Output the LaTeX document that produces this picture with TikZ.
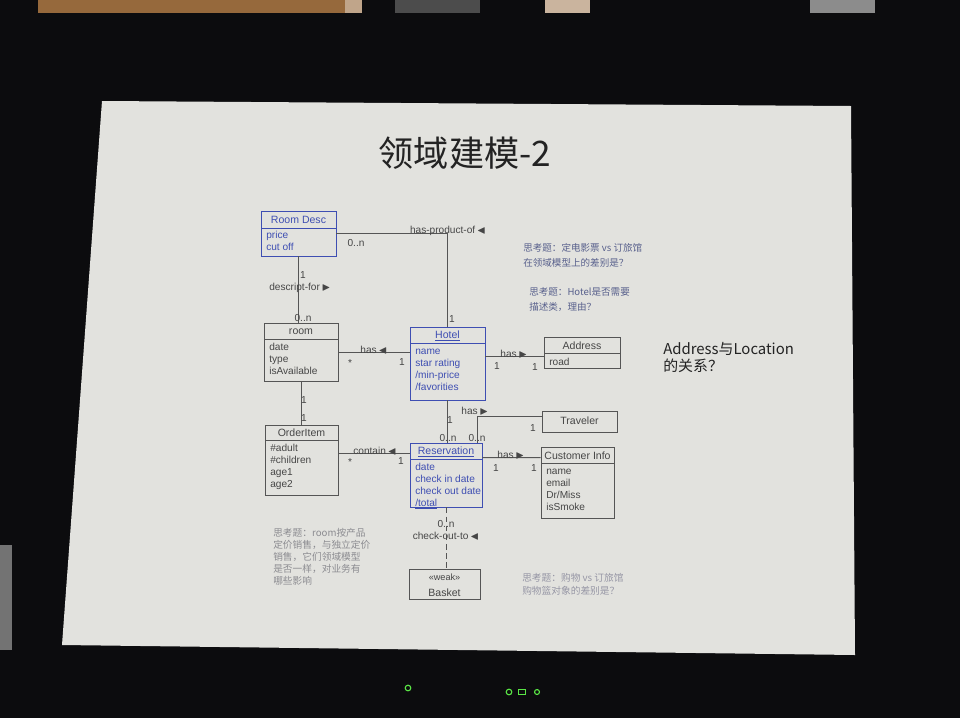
\documentclass[tikz,border=0pt]{standalone}
\usepackage{amssymb}
\usepackage{fontspec}
\setmainfont{Liberation Sans}
\newfontfamily\cjk{Noto Sans CJK SC}
\usetikzlibrary{positioning,calc,fit}
\definecolor{cadre}{RGB}{12,12,14}
\definecolor{ecran}{RGB}{226,226,222}
\definecolor{bleuclasse}{RGB}{62,78,178}
\definecolor{encre}{RGB}{70,70,70}
\definecolor{trait}{RGB}{85,85,85}
\definecolor{titre}{RGB}{35,35,35}
\definecolor{noteA}{RGB}{88,96,140}
\definecolor{noteB}{RGB}{140,140,145}
\definecolor{noteC}{RGB}{150,150,165}
\definecolor{bois}{RGB}{150,105,60}
\definecolor{vert}{RGB}{90,230,70}
\newcommand{\flg}{$\blacktriangleleft$}
\newcommand{\fld}{$\blacktriangleright$}

\begin{document}
\begin{tikzpicture}[x=0.025cm,y=-0.025cm,font=\fontsize{7.2}{8.5}\selectfont,
	classe/.style={draw=trait,line width=0.6pt,inner sep=0pt},
	entete/.style={inner sep=0pt,text=encre,font=\fontsize{7.5}{8.5}\selectfont},
	attr/.style={anchor=north west,align=left,inner sep=0pt,text=encre},
	lien/.style={draw=trait,line width=0.6pt},
	mult/.style={inner sep=0pt,text=encre},
	note/.style={anchor=north west,align=left,inner sep=0pt,font=\cjk\fontsize{6.8}{10.6}\selectfont},
	led/.style={circle,draw=vert,line width=0.8pt,inner sep=0pt,minimum size=4pt}]
					\fill[cadre] (0,0) rectangle (960,718);
					\useasboundingbox (0,0) rectangle (960,718);
					\fill[bois] (38,0) rectangle (345,13);
					\fill[bois!60!white] (345,0) rectangle (362,13);
					\fill[black!70] (395,0) rectangle (480,13);
					\fill[bois!50!white] (545,0) rectangle (590,13);
					\fill[black!45] (810,0) rectangle (875,13);
					\fill[black!55] (0,545) rectangle (12,650);
					\fill[ecran] (102,101) -- (851,106) -- (855,655) -- (62,645) -- cycle;
					
					\node[font=\cjk\fontsize{25}{25}\selectfont,text=titre] (titre) at (465,153) {领域建模-2};
					
					\node[classe,draw=bleuclasse,fit={(261,211) (336,256)}] (rd) {};
					\draw[bleuclasse,line width=0.6pt] (261,228) -- (336,228);
					\node[entete,text=bleuclasse] (rdT) at (298.5,220) {Room Desc};
					\node[attr,text=bleuclasse] (rdA) at (266,230) {\strut price\\cut off};
					
					\node[classe,fit={(264,323) (338,381)}] (room) {};
					\draw[lien] (264,339) -- (338,339);
					\node[entete] (roomT) at (301,331.5) {room};
					\node[attr] (roomA) at (269,341.6) {\strut date\\type\\isAvailable};
					
					\node[classe,draw=bleuclasse,fit={(410,327) (485,400)}] (hotel) {};
					\draw[bleuclasse,line width=0.6pt] (410,343) -- (485,343);
					\node[entete,text=bleuclasse] (hotelT) at (447.5,335.5) {\underline{Hotel}};
					\node[attr,text=bleuclasse] (hotelA) at (415,345.6) {\strut name\\star rating\\/min-price\\/favorities};
					
					\node[classe,fit={(544,337) (620,368)}] (adr) {};
					\draw[lien] (544,353) -- (620,353);
					\node[entete] (adrT) at (582,345.5) {Address};
					\node[attr] (adrA) at (549,356.6) {\strut road};
					
					\node[classe,fit={(542,411) (617,432)}] (trav) {};
					\node[entete] (travT) at (579.5,421) {Traveler};
					
					\node[classe,fit={(265,425) (338,495)}] (oi) {};
					\draw[lien] (265,440) -- (338,440);
					\node[entete] (oiT) at (301.5,433) {OrderItem};
					\node[attr] (oiA) at (270,442.6) {\strut\#adult\\\#children\\age1\\age2};
					
					\node[classe,draw=bleuclasse,fit={(410,443) (482,507)}] (resv) {};
					\draw[bleuclasse,line width=0.6pt] (410,459) -- (482,459);
					\node[entete,text=bleuclasse] (resvT) at (446,452) {\underline{Reservation}};
					\node[attr,text=bleuclasse] (resvA) at (415,461.6) {\strut date\\check in date\\check out date\\\underline{/total}};
					
					\node[classe,fit={(541,447) (614,518)}] (ci) {};
					\draw[lien] (541,463) -- (614,463);
					\node[entete] (ciT) at (577.5,455.5) {Customer Info};
					\node[attr] (ciA) at (546,465.6) {\strut name\\email\\Dr/Miss\\isSmoke};
					
					\node[classe,fit={(409,569) (480,599)}] (bk) {};
					\node[entete,align=center,font=\fontsize{7.5}{11}\selectfont] (bkT) at (444.5,585) {{\fontsize{6.5}{11}\selectfont«weak»}\\Basket};
					
					\draw[lien] (rd.east) -| (hotel.north);
					\draw[lien] (rd.south) -- (rd.south |- room.north);
					\draw[lien] (room.east) -- (room.east -| hotel.west);
					\draw[lien] (room.south) -- (room.south |- oi.north);
					\draw[lien] ($(hotel.north east)+(0,30)$) -- ($(adr.north west)+(0,20)$);
					\draw[lien] (hotel.south) -- (hotel.south |- resv.north);
					\draw[lien] ($(trav.north west)+(0,6)$) -| ($(resv.north east)+(-5,0)$);
					\draw[lien] ($(oi.north east)+(0,29)$) -- ($(resv.north west)+(0,11)$);
					\draw[lien] ($(resv.north east)+(0,15)$) -- ($(ci.north west)+(0,11)$);
					\draw[lien,dash pattern=on 4pt off 2.5pt] (resv.south) -- (resv.south |- bk.north);
					
					\node[mult,anchor=base] (l1) at (448,233) {has-product-of\,\flg};
					\node[mult] (m1) at (356,243) {0..n};
					\node[mult] (m2) at (452,319) {1};
					\node[mult,anchor=base] (l2) at (300,290) {descript-for\,\fld};
					\node[mult] (m3) at (303,275) {1};
					\node[mult] (m4) at (303,318) {0..n};
					\node[mult,anchor=base] (l3) at (374,353) {has\,\flg};
					\node[mult] (m5) at (350,363) {*};
					\node[mult] (m6) at (402,362) {1};
					\node[mult] (m7) at (304,400) {1};
					\node[mult] (m8) at (304,418) {1};
					\node[mult,anchor=base] (l4) at (514,357) {has\,\fld};
					\node[mult] (m9) at (497,366) {1};
					\node[mult] (m10) at (535,367) {1};
					\node[mult] (m11) at (450,420) {1};
					\node[mult] (m12) at (448,438) {0..n};
					\node[mult,anchor=base] (l5) at (475,414) {has\,\fld};
					\node[mult] (m13) at (533,428) {1};
					\node[mult] (m14) at (477,438) {0..n};
					\node[mult,anchor=base] (l6) at (375,454) {contain\,\flg};
					\node[mult] (m15) at (350,462) {*};
					\node[mult] (m16) at (401,461) {1};
					\node[mult,anchor=base] (l7) at (511,458) {has\,\fld};
					\node[mult] (m17) at (496,468) {1};
					\node[mult] (m18) at (534,468) {1};
					\node[mult] (m19) at (446,524) {0..n};
					\node[mult,anchor=base] (l8) at (446,539) {check-out-to\,\flg};
					
					\node[note,text=noteA] (q1) at (523,243) {思考题：定电影票 vs 订旅馆\\在领域模型上的差别是？};
					\node[note,text=noteA] (q2) at (529,287) {思考题：Hotel是否需要\\描述类，理由？};
					\node[note,text=noteB,font=\cjk\fontsize{6.9}{8.5}\selectfont] (q3) at (273,528) {思考题：room按产品\\定价销售，与独立定价\\销售，它们领域模型\\是否一样，对业务有\\哪些影响};
					\node[note,text=noteC,font=\cjk\fontsize{6.9}{9.2}\selectfont] (q4) at (522,573) {思考题：购物 vs 订旅馆\\购物篮对象的差别是？};
					\node[note,text=titre,font=\cjk\fontsize{10.6}{12}\selectfont] (q5) at (663,342) {Address与Location\\的关系？};
					
					\node[led] (wifi) at (408,688) {};
					\node[led] (marche) at (509,692) {};
					\node[led,rectangle,minimum width=5pt,minimum height=3.5pt] (batterie) at (522,692) {};
					\node[led,minimum size=3.5pt] (secteur) at (537,692) {};
				\end{tikzpicture}
\end{document}
